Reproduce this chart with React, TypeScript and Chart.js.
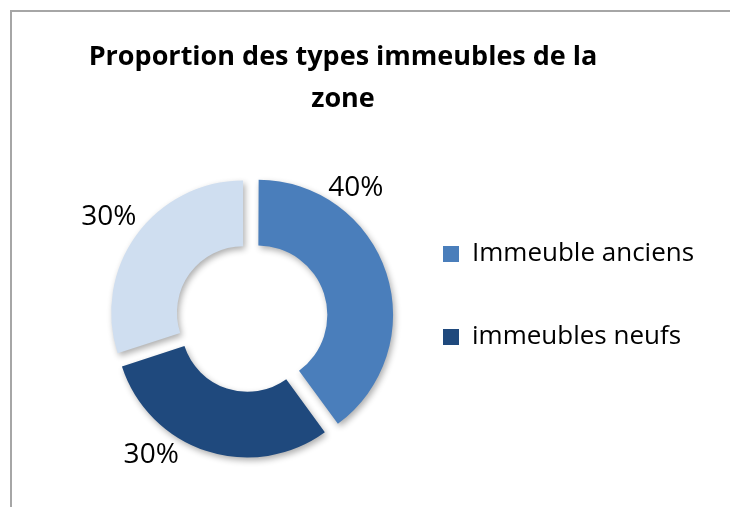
import React, { useEffect, useRef } from 'react';
import { Chart, registerables } from 'chart.js';

Chart.register(...registerables);

// ---- data ----
const categories: string[] = ['Immeuble anciens', 'immeubles neufs', ''];
const values: number[] = [40, 30, 30];
const titleLines: string[] = ['Proportion des types immeubles de la', 'zone'];

// ---- styles ----
const sliceColors = ['#4A7EBB', '#1F497D', '#CFDEF0'];
const labelAngleFrac = [0.27, 0.668, 0.5];
const labelDist = [37, 36, 43];
const FONT = '"Open Sans", Lato, sans-serif';

export default function App() {
  const ref = useRef<HTMLCanvasElement>(null);

  useEffect(() => {
    const canvas = ref.current;
    if (!canvas) return;
    const total = values.reduce((a, b) => a + b, 0);

    const titlePlugin = {
      id: 'centeredTitle',
      afterDraw(chart: any) {
        const ctx = chart.ctx;
        ctx.save();
        ctx.font = `bold 27px ${FONT}`;
        ctx.fillStyle = '#000';
        ctx.textAlign = 'center';
        ctx.textBaseline = 'alphabetic';
        titleLines.forEach((line, i) => ctx.fillText(line, 343, 65 + i * 42));
        ctx.restore();
      },
    };

    const shadowAndLabels = {
      id: 'shadowAndLabels',
      beforeDatasetsDraw(chart: any) {
        const ctx = chart.ctx;
        ctx.save();
        ctx.shadowColor = 'rgba(0,0,0,0.32)';
        ctx.shadowBlur = 6;
        ctx.shadowOffsetX = 2;
        ctx.shadowOffsetY = 3;
      },
      afterDatasetsDraw(chart: any) {
        const ctx = chart.ctx;
        ctx.restore();
        const meta = chart.getDatasetMeta(0);
        const size = 28;
        ctx.save();
        ctx.font = `${size}px ${FONT}`;
        ctx.fillStyle = '#000';
        ctx.textAlign = 'center';
        ctx.textBaseline = 'alphabetic';
        meta.data.forEach((arc: any, i: number) => {
          const p = arc.getProps(['x', 'y', 'startAngle', 'endAngle', 'outerRadius'], true);
          const a = p.startAngle + labelAngleFrac[i] * (p.endAngle - p.startAngle);
          const d = p.outerRadius + labelDist[i];
          const txt = Math.round((values[i] / total) * 100) + '%';
          ctx.fillText(txt, p.x + Math.cos(a) * d, p.y + Math.sin(a) * d + size * 0.357);
        });
        ctx.restore();
      },
    };

    const chart = new Chart(canvas, {
      type: 'doughnut',
      data: {
        labels: categories,
        datasets: [
          {
            data: values,
            backgroundColor: sliceColors,
            borderWidth: 0,
            offset: 34,
            hoverOffset: 0,
            clip: false as any,
          },
        ],
      },
      options: {
        responsive: false,
        animation: false,
        devicePixelRatio: 1,
        radius: 131.5,
        cutout: '50%',
        layout: { padding: { left: 70, right: 35, top: 130, bottom: 2 } },
        plugins: {
          tooltip: { enabled: false },
          title: { display: false },
          legend: {
            display: true,
            position: 'right',
            align: 'center',
            maxWidth: 265,
            labels: {
              boxWidth: 16,
              boxHeight: 16,
              padding: 13,
              color: '#000',
              font: { family: FONT, size: 26, lineHeight: 70 / 26 },
              generateLabels(c: any) {
                const base = (Chart as any).overrides.doughnut.plugins.legend.labels.generateLabels(c);
                return base.map((it: any) => ({ ...it, text: [it.text] }));
              },
              filter: (item: any) => categories[item.index] !== '',
            },
          },
        },
      } as any,
      plugins: [shadowAndLabels, titlePlugin],
    });

    return () => chart.destroy();
  }, []);

  return (
    <div style={{ position: 'absolute', left: 0, top: 0, width: 730, height: 507, background: '#fff', overflow: 'hidden' }}>
      <div
        style={{
          position: 'absolute',
          left: 10,
          top: 10,
          width: 730,
          height: 507,
          borderLeft: '2px solid #a6a6a6',
          borderTop: '2px solid #a6a6a6',
        }}
      />
      <canvas
        ref={ref}
        width={730}
        height={507}
        style={{ position: 'absolute', left: 0, top: 0, width: 730, height: 507 }}
      />
    </div>
  );
}
